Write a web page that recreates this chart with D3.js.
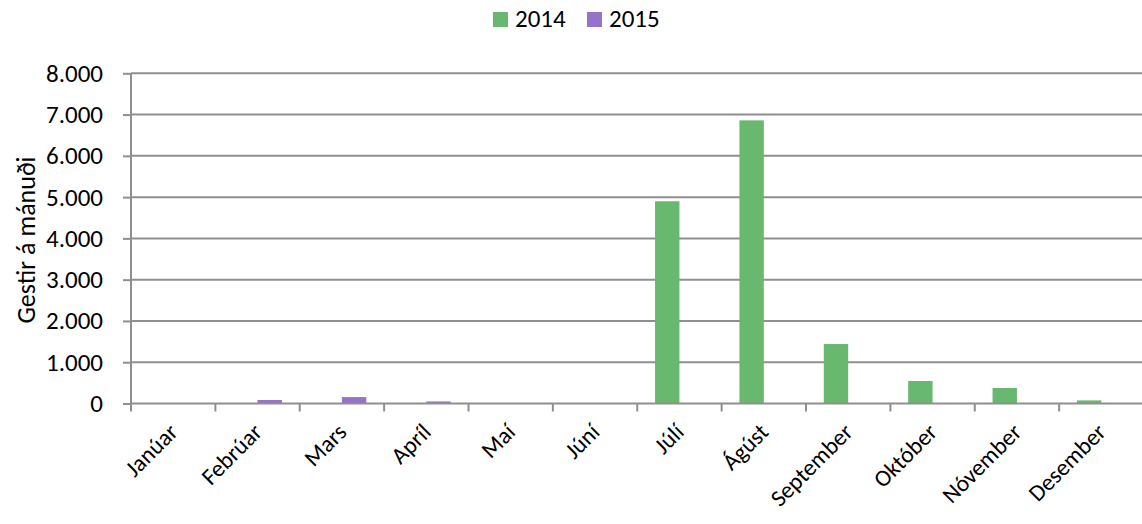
<!DOCTYPE html>
<html><head><meta charset="utf-8">
<script src="https://cdn.jsdelivr.net/npm/d3@7"></script>
<style>body{margin:0;background:#fff}svg{display:block}text{font-family:Carlito,Calibri,Lato,sans-serif;fill:#000}</style>
</head><body><svg id="c" width="1142" height="524"></svg>
<script>
const months = ["Janúar","Febrúar","Mars","Apríl","Maí","Júní","Júlí","Ágúst","September","Október","Nóvember","Desember"];
const seriesNames = ["2014","2015"];
const values2014 = [0,0,0,0,0,0,4900,6860,1440,545,375,75];
const values2015 = [0,85,155,50,0,0,0,0,0,0,0,0];
const yTicks = [0,1000,2000,3000,4000,5000,6000,7000,8000];
const colors = ["#68b86f","#9573c9"];
const yTitle = "Gestir á mánuði";

const svg = d3.select("#c");
const pL = 131, pR = 1143.5, pT = 73.3, pB = 403.5;
const FS = 25;
const x = d3.scaleBand().domain(months).range([pL,pR]).paddingInner(0).paddingOuter(0);
const y = d3.scaleLinear().domain([0,8000]).range([pB,pT]);
const fmt = v => d3.format(",")(v).replace(/,/g,".");

// gridlines
svg.append("g").selectAll("line").data(yTicks.filter(d=>d>0)).join("line")
  .attr("x1",pL).attr("x2",1142).attr("y1",d=>y(d)).attr("y2",d=>y(d))
  .attr("stroke","#8f8f8f").attr("stroke-width",2);

// bars
const bw = x.bandwidth();
const gap = bw*0.211, barW = (bw-2*gap)/2;
const series = [values2014, values2015];
series.forEach((vals,si)=>{
  svg.append("g").selectAll("rect").data(months.map((m,i)=>({m,v:vals[i]})).filter(d=>d.v>0)).join("rect")
    .attr("x",d=>x(d.m)+gap+si*barW).attr("width",barW)
    .attr("y",d=>y(d.v)).attr("height",d=>pB-y(d.v))
    .attr("fill",colors[si]);
});

// y axis
const ya = svg.append("g").attr("transform",`translate(${pL},0)`)
  .call(d3.axisLeft(y).tickValues(yTicks).tickFormat(fmt).tickSize(8).tickPadding(20));
ya.select(".domain").attr("stroke","#8f8f8f").attr("stroke-width",2).attr("d",`M0,${pT}V${pB}`);
ya.selectAll(".tick line").attr("stroke","#8f8f8f").attr("stroke-width",2);
ya.selectAll(".tick text").attr("font-size",FS).style("font-family","Carlito,Calibri,Lato,sans-serif").attr("fill","#000");

// x axis
const xa = svg.append("g").attr("transform",`translate(0,${pB})`)
  .call(d3.axisBottom(x).tickSize(0).tickFormat(""));
xa.select(".domain").attr("stroke","#8f8f8f").attr("stroke-width",2).attr("d",`M${pL},0H1142`);
const bounds = [pL].concat(months.map(m=>x(m)+bw));
svg.append("g").selectAll("line").data(bounds.filter(b=>b<1140)).join("line")
  .attr("x1",d=>d).attr("x2",d=>d).attr("y1",pB).attr("y2",pB+8)
  .attr("stroke","#8f8f8f").attr("stroke-width",2);
svg.append("g").selectAll("text").data(months).join("text")
  .attr("transform",d=>`translate(${x(d)+bw/2+6},${pB+30}) rotate(-45)`)
  .attr("text-anchor","end").attr("font-size",23.5).text(d=>d);

// y title
svg.append("text").attr("transform","translate(35,240) rotate(-90)")
  .attr("text-anchor","middle").attr("font-size",26).text(yTitle);

// legend
const lg = svg.append("g");
const lx = [493,587];
seriesNames.forEach((s,i)=>{
  lg.append("rect").attr("x",lx[i]).attr("y",12).attr("width",15).attr("height",15).attr("fill",colors[i]);
  lg.append("text").attr("x",lx[i]+22).attr("y",27).attr("font-size",FS).text(s);
});
</script></body></html>
